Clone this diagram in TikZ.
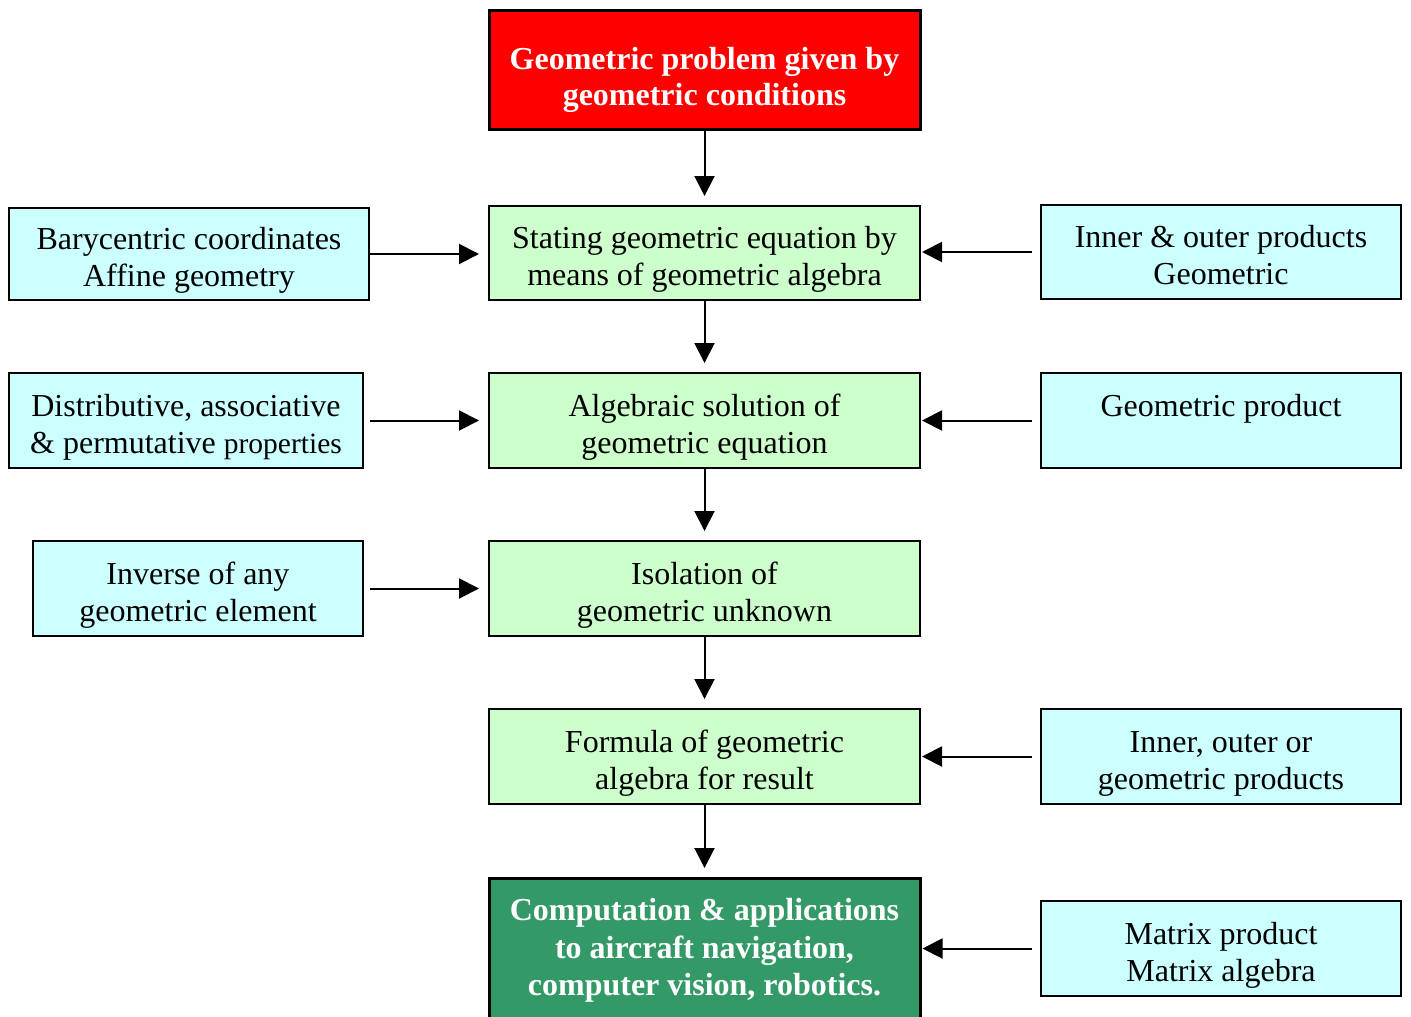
\documentclass[tikz,border=0pt]{standalone}
\usepackage{fontspec}
\setmainfont{Liberation Serif}
\usetikzlibrary{arrows.meta}
\definecolor{lcyan}{HTML}{CCFFFF}
\definecolor{lgreen}{HTML}{CCFFCC}
\definecolor{dgreen}{HTML}{339966}
\definecolor{pred}{HTML}{FF0000}
\newcommand{\hst}[1]{\rule{0pt}{#1}}
\newcommand{\dst}[1]{\rule[-#1]{0pt}{0pt}}
\newcommand{\T}{\hst{38pt}}
\newcommand{\B}{\dst{10pt}}
\begin{document}
\begin{tikzpicture}[x=1pt,y=-1pt,
  box/.style={rectangle,draw=black,line width=2pt,inner sep=0pt,align=center,
    font=\fontsize{32}{37}\selectfont},
  cbox/.style={box,fill=lcyan,minimum width=#1,minimum height=95},
  gbox/.style={box,fill=lgreen,minimum width=431,minimum height=95},
  hbox/.style={rectangle,draw=black,inner sep=0pt,align=center,line width=3pt,
    minimum width=431,text=white,font=\fontsize{32}{36}\selectfont\bfseries},
  arr/.style={line width=2pt,-{Triangle[length=20pt,width=20pt]}}]
\useasboundingbox (0,0) rectangle (1411,1017);
\clip (0,0) rectangle (1411,1017);
% main column
\node[hbox,fill=pred,minimum height=119] (prob) at (704.5,69.5)
  {\hst{44pt}Geometric problem given by\\geometric conditions\dst{6pt}};
\node[gbox,minimum height=94] (state) at (704.5,253)
  {\T Stating geometric equation by\\means of geometric algebra\B};
\node[gbox] (solve) at (704.5,420.5) {\T Algebraic solution of\\geometric equation\B};
\node[gbox] (isol) at (704.5,588.5) {\T Isolation of\\geometric unknown\B};
\node[gbox] (form) at (704.5,756.5) {\T Formula of geometric\\algebra for result\B};
\node[hbox,fill=dgreen,minimum height=170,anchor=north] (comp) at (704.5,877) {};
\node[font=\fontsize{32}{37.5}\selectfont\bfseries,text=white,align=center,inner sep=0pt]
  (comptext) at (704.5,943)
  {\hst{40pt}Computation \& applications\\to aircraft navigation,\\computer vision, robotics.\B};
% left column
\node[cbox=360,minimum height=92] (bary) at (189,254)
  {\T Barycentric coordinates\\Affine geometry\B};
\node[cbox=354] (dist) at (186,420.5)
  {\T Distributive, associative\\\& permutative {\fontsize{29.5}{37}\selectfont properties}\B};
\node[cbox=330] (inv) at (198,588.5) {\T Inverse of any\\geometric element\B};
% right column
\node[cbox=360,minimum height=94] (inner) at (1221,252)
  {\T Inner \& outer products\\Geometric\B};
\node[cbox=360] (gprod) at (1221,420.5) {\T Geometric product\\\mbox{}\B};
\node[cbox=360] (ioprod) at (1221,756.5) {\T Inner, outer or\\geometric products\B};
\node[cbox=360] (matrix) at (1221,948.5) {\T Matrix product\\Matrix algebra\B};
% vertical arrows
\draw[arr,shorten >=9pt] (prob.south) -- (state.north);
\draw[arr,shorten >=9pt] (state.south) -- (solve.north);
\draw[arr,shorten >=9pt] (solve.south) -- (isol.north);
\draw[arr,shorten >=9pt] (isol.south) -- (form.north);
\draw[arr,shorten >=9pt] (form.south) -- (comp.north);
% left arrows
\draw[arr,shorten >=9pt] (bary.east) -- (bary.east -| state.west);
\draw[arr,shorten <=6pt,shorten >=9pt] (dist.east) -- (dist.east -| solve.west);
\draw[arr,shorten <=6pt,shorten >=9pt] (inv.east) -- (inv.east -| isol.west);
% right arrows
\draw[arr,shorten <=8pt,shorten >=1pt] (inner.west) -- (inner.west -| state.east);
\draw[arr,shorten <=8pt,shorten >=1pt] (gprod.west) -- (gprod.west -| solve.east);
\draw[arr,shorten <=8pt,shorten >=1pt] (ioprod.west) -- (ioprod.west -| form.east);
\draw[arr,shorten <=8pt,shorten >=1pt] (matrix.west) -- (matrix.west -| comp.east);
\end{tikzpicture}
\end{document}
